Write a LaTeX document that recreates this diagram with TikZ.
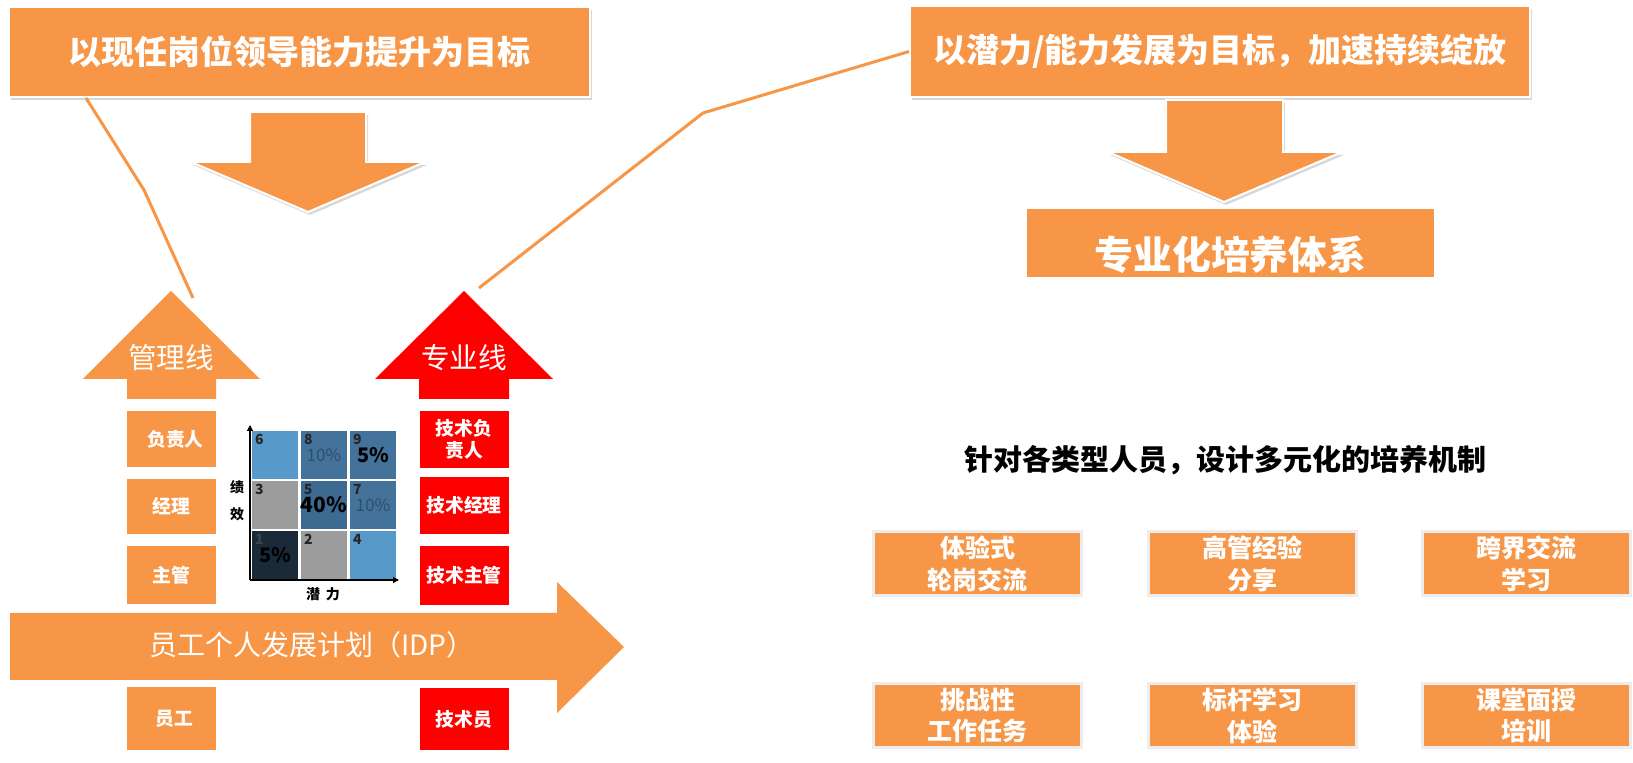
\documentclass[tikz,border=0pt]{standalone}
\usepackage{fontspec}
\setmainfont{Noto Sans CJK SC}
\usepackage{tikz}
\usetikzlibrary{arrows.meta,shadows}

\definecolor{orng}{HTML}{F79646}
\definecolor{hotred}{HTML}{FF0000}
\definecolor{boxedge}{HTML}{EDEDED}
\definecolor{lblue}{HTML}{5799C9}
\definecolor{dblue}{HTML}{43739B}
\definecolor{mblue}{HTML}{3C6A90}
\definecolor{cellgray}{HTML}{9C9C9C}
\definecolor{navy}{HTML}{1B2A38}
\definecolor{pctgray}{HTML}{2F4E68}

\begin{document}
\begin{tikzpicture}[x=0.5pt, y=-0.5pt,
    goal/.style={rectangle, fill=orng, draw=white, line width=1pt, text=white, inner sep=0pt,
        font=\bfseries\fontsize{16.5}{20}\selectfont,
        drop shadow={shadow xshift=1pt, shadow yshift=-1.5pt, opacity=0.3}},
    sinker/.style={fill=orng, draw=white, line width=1pt,
        drop shadow={shadow xshift=1pt, shadow yshift=-1.5pt, opacity=0.3}},
    rung/.style={rectangle, fill=#1, minimum width=44.5pt, inner sep=0pt, text=white, align=center,
        font=\bfseries\fontsize{9.4}{11}\selectfont},
    method/.style={rectangle, fill=orng, draw=boxedge, line width=1.5pt, minimum width=104pt,
        minimum height=32pt, inner sep=0pt, text=white, align=center,
        font=\bfseries\fontsize{12.5}{16}\selectfont},
    cell/.style={rectangle, fill=#1, minimum width=23pt, minimum height=24pt, inner sep=0pt,
        font=\bfseries\fontsize{10}{10}\selectfont},
    num/.style={anchor=north west, inner sep=1.5pt, font=\bfseries\fontsize{7}{7}\selectfont, text=black!85},
    callout/.style={draw=orng, line width=1.5pt},
    axis/.style={-{Triangle[length=3pt,width=3pt]}, line width=0.6pt}
]
\path[fill=white, use as bounding box] (0,0) rectangle (1633,763);

% Goals
\node[goal, minimum width=290.5pt, minimum height=45pt] (lead) at (299.5,52) {以现任岗位领导能力提升为目标};
\node[goal, minimum width=310pt, minimum height=45.5pt] (grow) at (1220,51.5) {以潜力/能力发展为目标，加速持续绽放};
\filldraw[sinker] (250,112) -- (366,112) -- (366,162) -- (425,162) -- (308,212) -- (191,162) -- (250,162) -- cycle;
\filldraw[sinker] (1166,100) -- (1283,100) -- (1283,152) -- (1342,152) -- (1224,202) -- (1108,152) -- (1166,152) -- cycle;
\node[rectangle, fill=orng, minimum width=203.5pt, minimum height=34pt, text=white,
    font=\bfseries\fontsize{19.4}{22}\selectfont] (system) at (1230.5,243)
    {\raisebox{-6pt}[\height][\depth]{专业化培养体系}};

% Career ladders
\fill[orng] (127,399) -- (127,379) -- (83,379) -- (171,291) -- (260,379) -- (216,379) -- (216,399) -- cycle;
\fill[hotred] (419,399) -- (419,379) -- (375,379) -- (464,291) -- (553,379) -- (509,379) -- (509,399) -- cycle;
\node[text=white, font=\fontsize{14.3}{16}\selectfont] (mgmt) at (171,358) {管理线};
\node[text=white, font=\fontsize{14.3}{16}\selectfont] (spec) at (464,358) {专业线};
\coordinate (mgmt tip) at (193,298);
\coordinate (spec tip) at (479,288);

\node[rung=orng, minimum height=28pt] (head) at (171.5,439) {\hspace{4pt}负责人};
\node[rung=orng, minimum height=27.5pt] (mgr) at (171.5,506.5) {经理};
\node[rung=orng, minimum height=29pt] (sup) at (171.5,575) {主管};
\node[rung=orng, minimum height=31.5pt] (staff) at (171.5,718.5) {\hspace{3pt}员工};
\node[rung=hotred, minimum height=28.5pt] (thead) at (464,439.5) {技术负\\责人};
\node[rung=hotred, minimum height=28.5pt] (tmgr) at (464,505.5) {技术经理};
\node[rung=hotred, minimum height=29.5pt] (tsup) at (464,575.5) {技术主管};
\node[rung=hotred, minimum height=31pt] (tstaff) at (464,719) {技术员};

\fill[orng] (10,613) -- (557,613) -- (557,582) -- (624,647) -- (557,713) -- (557,680) -- (10,680) -- cycle;
\node[text=white, font=\fontsize{14}{16}\selectfont] (idp) at (312,645) {员工个人发展计划（IDP）};

% Callouts
\draw[callout] (lead.south west) ++(78,0) -- (144,190) -- (mgmt tip);
\draw[callout] (grow.west) -- (703,113) -- (spec tip);

% Nine-box grid
\node[cell=lblue, label={[num]north west:6}] (c6) at (275,455) {};
\node[cell=dblue, text=pctgray, font=\fontsize{8.5}{9}\selectfont, label={[num]north west:8}] (c8) at (324,455) {10\%};
\node[cell=dblue, label={[num]north west:9}] (c9) at (373,455) {5\%};
\node[cell=cellgray, label={[num]north west:3}] (c3) at (275,505) {};
\node[cell=mblue, font=\bfseries\fontsize{10.5}{11}\selectfont, label={[num]north west:5}] (c5) at (324,505) {40\%};
\node[cell=dblue, text=pctgray, font=\fontsize{8.5}{9}\selectfont, label={[num]north west:7}] (c7) at (373,505) {10\%};
\node[cell=navy, label={[num, text=navy!70!gray]north west:1}] (c1) at (275,555) {5\%};
\node[cell=cellgray, label={[num]north west:2}] (c2) at (324,555) {};
\node[cell=lblue, label={[num]north west:4}] (c4) at (373,555) {};

\coordinate (origin) at (250,580);
\coordinate (ytop) at (250,425);
\coordinate (xend) at (399,580);
\draw[axis] (origin) -- (ytop);
\draw[axis] (origin) -- (xend);
\node[font=\bfseries\fontsize{7}{13.5}\selectfont, align=center] (perf) at (237,501) {绩\\效};
\node[font=\bfseries\fontsize{7}{8}\selectfont] (pot) at (323,594) {潜\hspace{3pt}力};

% Training methods
\node[font=\bfseries\fontsize{14.5}{16}\selectfont] (mech) at (1225,460) {针对各类型人员，设计多元化的培养机制};
\node[method] (rotate) at (977.5,563.5) {体验式\\轮岗交流};
\node[method] (share) at (1252,563.5) {高管经验\\分享};
\node[method] (cross) at (1526.5,563.5) {跨界交流\\学习};
\node[method] (task) at (977.5,715.5) {挑战性\\工作任务};
\node[method] (bench) at (1252,715.5) {标杆学习\\体验};
\node[method] (class) at (1526.5,715.5) {课堂面授\\培训};

\end{tikzpicture}
\end{document}
